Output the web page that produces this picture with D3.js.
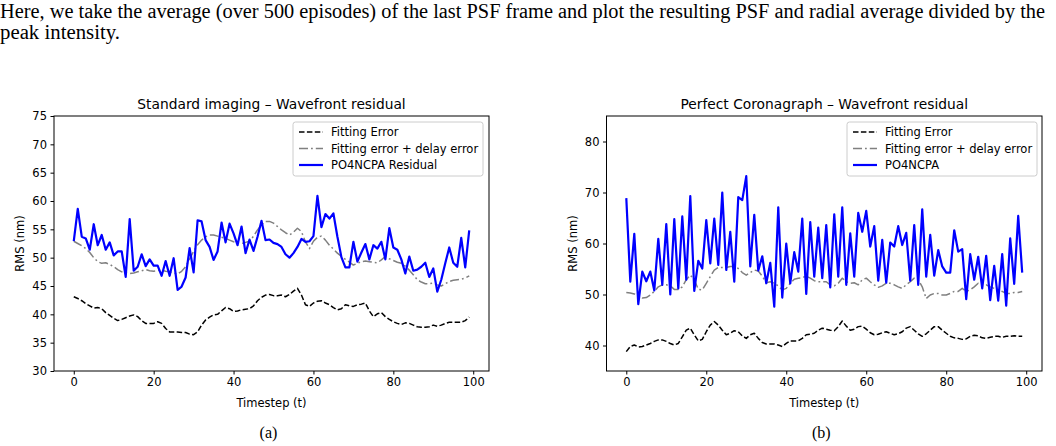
<!DOCTYPE html>
<html>
<head>
<meta charset="utf-8">
<script src="https://cdn.jsdelivr.net/npm/d3@7"></script>
<style>
    body { margin: 0; background: #fff; }
    svg { display: block; }
    .axis text { font-family: "DejaVu Sans", sans-serif; font-size: 11.5px; fill: #000; }
    .axis path, .axis line { stroke: #000; }
</style>
</head>
<body>
<div id="chart"></div>
<script>

// timesteps 0..99
var steps = d3.range(0, 100);

// (a) Standard imaging
var stdFitting = [43.1, 42.8, 42.4, 41.9, 41.5, 41.1, 41.2, 41.0, 40.3, 39.8,
    39.3, 38.9, 39.1, 39.4, 39.7, 39.9, 39.6, 38.9, 38.4, 38.4,
    38.4, 38.7, 38.4, 37.5, 36.9, 36.9, 36.9, 36.8, 36.8, 36.5,
    36.4, 36.9, 38.1, 39.0, 39.5, 39.9, 40.0, 40.6, 41.2, 41.0,
    40.5, 40.6, 40.8, 40.9, 41.0, 41.5, 42.4, 43.0, 43.4, 43.5,
    43.3, 43.3, 43.4, 43.1, 43.5, 44.1, 44.6, 43.4, 41.7, 41.4,
    42.0, 42.3, 42.4, 42.0, 41.7, 41.2, 40.8, 41.0, 41.7, 41.5,
    41.4, 41.7, 41.8, 42.0, 40.6, 39.6, 40.1, 40.3, 39.6, 39.1,
    38.7, 38.4, 38.2, 38.5, 38.4, 38.1, 37.8, 37.7, 37.7, 37.8,
    38.1, 37.9, 38.1, 38.4, 38.6, 38.6, 38.6, 38.6, 38.9, 39.5];

var stdDelay = [52.9, 52.5, 52.1, 51.6, 50.9, 50.0, 49.3, 49.0, 49.1, 48.8,
    48.4, 47.9, 47.5, 47.3, 47.2, 47.3, 47.5, 47.7, 47.9, 47.7,
    47.6, 47.7, 47.8, 47.6, 47.5, 47.3, 47.1, 47.6, 48.4, 49.8,
    51.1, 52.3, 53.1, 53.7, 54.0, 54.0, 53.8, 53.6, 53.4, 53.1,
    52.8, 52.6, 52.5, 52.7, 52.9, 53.8, 54.9, 55.8, 56.4, 56.4,
    56.1, 55.5, 54.9, 54.4, 54.0, 54.5, 55.2, 54.6, 52.8, 51.6,
    52.9, 53.6, 53.8, 53.1, 52.2, 51.5, 50.8, 50.2, 49.7, 49.2,
    48.7, 49.0, 49.3, 49.4, 49.3, 49.2, 49.1, 49.6, 50.2, 49.8,
    49.5, 49.2, 49.0, 48.5, 47.8, 47.0, 46.1, 45.7, 45.4, 45.4,
    45.5, 45.2, 45.0, 45.4, 45.8, 46.0, 46.1, 46.2, 46.4, 46.8];

var stdResidual = [52.9, 58.6, 53.7, 53.4, 51.4, 55.9, 52.2, 54.0, 51.4, 52.7,
    50.4, 51.1, 51.1, 46.6, 56.8, 47.7, 48.4, 50.6, 48.5, 49.7,
    48.6, 48.6, 46.8, 49.4, 46.8, 49.9, 44.3, 44.9, 46.5, 51.7,
    47.4, 56.6, 56.4, 53.1, 51.9, 49.6, 51.1, 56.2, 52.7, 56.0,
    54.3, 52.2, 55.5, 50.8, 53.2, 51.2, 53.7, 56.5, 53.1, 53.2,
    52.6, 52.4, 51.9, 50.6, 50.0, 50.8, 51.9, 53.3, 52.8, 52.9,
    53.8, 60.9, 55.4, 57.7, 56.9, 57.8, 53.7, 50.1, 48.3, 48.3,
    52.8, 49.3, 50.9, 52.4, 49.7, 52.2, 51.6, 52.8, 49.7, 55.2,
    51.8, 51.4, 49.7, 47.2, 50.2, 47.7, 47.9, 48.4, 49.1, 46.6,
    48.1, 44.0, 46.1, 49.0, 51.8, 49.1, 48.4, 53.5, 48.3, 54.8];

// (b) Perfect coronagraph
var coroFitting = [38.8, 39.8, 40.1, 39.7, 39.8, 40.1, 40.4, 40.8, 41.1, 41.1,
    40.8, 40.4, 40.1, 40.4, 41.7, 43.0, 43.4, 42.1, 40.9, 41.2,
    42.7, 44.0, 44.7, 44.0, 43.0, 42.1, 42.4, 42.9, 42.7, 41.9,
    41.4, 42.1, 42.4, 41.4, 40.6, 40.3, 40.3, 40.3, 40.1, 39.8,
    40.4, 40.9, 40.9, 40.9, 41.4, 42.1, 42.2, 42.4, 43.0, 43.4,
    43.2, 43.0, 42.9, 43.7, 44.8, 43.8, 43.0, 43.2, 43.7, 43.8,
    43.2, 42.5, 42.1, 42.2, 42.5, 42.7, 42.4, 42.1, 42.3, 42.7,
    43.4, 43.7, 43.0, 42.3, 41.8, 42.3, 43.0, 43.7, 43.7, 43.0,
    42.4, 41.8, 41.5, 41.4, 41.2, 41.3, 41.8, 42.0, 41.9, 41.5,
    41.4, 41.6, 41.8, 41.8, 41.6, 41.8, 41.8, 41.9, 41.8, 41.8];

var coroDelay = [50.4, 50.3, 50.1, 49.6, 49.3, 49.4, 49.9, 50.6, 51.5, 51.9,
    51.9, 51.7, 51.0, 51.0, 51.5, 52.9, 53.8, 52.9, 51.0, 50.9,
    52.2, 53.5, 54.8, 55.3, 55.3, 55.3, 55.5, 55.5, 55.1, 54.3,
    53.8, 54.3, 54.8, 54.6, 53.6, 52.3, 52.5, 52.2, 51.7, 50.9,
    51.2, 52.2, 53.0, 53.2, 53.3, 53.6, 53.2, 52.7, 52.5, 52.5,
    52.5, 51.9, 51.7, 52.2, 53.2, 52.5, 52.2, 52.3, 51.9, 52.9,
    53.2, 52.5, 51.9, 51.4, 51.7, 52.2, 52.2, 51.9, 51.5, 51.2,
    51.9, 52.5, 53.2, 52.9, 51.5, 49.2, 49.9, 50.2, 50.2, 49.9,
    49.9, 50.2, 50.6, 50.6, 51.2, 50.6, 50.9, 51.5, 52.2, 51.9,
    51.9, 51.5, 51.2, 50.9, 50.6, 50.2, 50.2, 50.4, 50.4, 50.6];

var coroResidual = [68.9, 52.5, 61.9, 48.1, 54.5, 52.6, 54.5, 50.8, 60.9, 51.9,
    63.8, 50.0, 64.8, 51.2, 65.3, 52.9, 69.3, 50.7, 56.6, 55.1,
    64.6, 56.1, 64.9, 55.8, 70.0, 54.8, 62.3, 52.5, 69.1, 68.5,
    73.2, 55.5, 65.6, 54.7, 57.5, 52.2, 56.2, 47.6, 67.1, 49.4,
    60.0, 52.2, 58.3, 54.5, 64.9, 50.1, 64.2, 53.5, 63.1, 53.2,
    63.6, 51.4, 65.7, 53.5, 67.1, 51.9, 62.0, 53.5, 66.0, 62.3,
    66.4, 59.4, 63.4, 52.7, 60.7, 52.3, 60.2, 59.4, 63.4, 59.7,
    62.1, 52.7, 63.6, 51.9, 66.7, 53.5, 61.7, 53.7, 58.7, 55.5,
    54.3, 54.3, 62.6, 58.4, 58.9, 49.1, 57.9, 52.9, 57.4, 51.2,
    57.6, 48.9, 55.6, 48.8, 57.9, 47.8, 61.0, 52.1, 65.4, 54.3];

var stdTicksY = [30, 35, 40, 45, 50, 55, 60, 65, 70, 75];
var coroTicksY = [40, 50, 60, 70, 80];
var ticksX = [0, 20, 40, 60, 80, 100];

var paragraph = [
    "Here, we take the average (over 500 episodes) of the last PSF frame and plot the resulting PSF and radial average divided by the",
    "peak intensity."
];

var blue = "#0000ff", gray = "#808080", black = "#000000";

var width = 1056, height = 446;

var svg = d3.select("#chart")
    .append("svg")
    .attr("width", width)
    .attr("height", height);

// paragraph text above the figure
svg.selectAll("text.para")
    .data(paragraph)
    .enter()
    .append("text")
    .attr("class", "para")
    .attr("x", 0)
    .attr("y", function (d, i) { return 18 + i * 21; })
    .attr("textLength", function (d, i) { return i === 0 ? 1045 : 120; })
    .attr("lengthAdjust", "spacingAndGlyphs")
    .style("font-family", "'Liberation Serif', 'Times New Roman', serif")
    .style("font-size", "20px")
    .text(function (d) { return d; });

drawPanel({
    left: 54, right: 489, top: 116, bottom: 371,
    yDomain: [30, 75], yTicks: stdTicksY,
    title: "Standard imaging \u2013 Wavefront residual",
    caption: "(a)",
    series: [
        {name: "Fitting Error", values: stdFitting, color: black, dash: "5.5,2.4", width: 1.5},
        {name: "Fitting error + delay error", values: stdDelay, color: gray, dash: "9,3,1.8,3", width: 1.5},
        {name: "PO4NCPA Residual", values: stdResidual, color: blue, dash: null, width: 2.2}
    ],
    legendX: 293
});

drawPanel({
    left: 606.5, right: 1042, top: 116, bottom: 371,
    yDomain: [35, 85], yTicks: coroTicksY,
    title: "Perfect Coronagraph \u2013 Wavefront residual",
    caption: "(b)",
    series: [
        {name: "Fitting Error", values: coroFitting, color: black, dash: "5.5,2.4", width: 1.5},
        {name: "Fitting error + delay error", values: coroDelay, color: gray, dash: "9,3,1.8,3", width: 1.5},
        {name: "PO4NCPA", values: coroResidual, color: blue, dash: null, width: 2.2}
    ],
    legendX: 847
});

function drawPanel(p) {
    var w = p.right - p.left,
        h = p.bottom - p.top;

    var x = d3.scaleLinear()
        .domain([-4.95, 103.95])
        .range([0, w]);

    var y = d3.scaleLinear()
        .domain(p.yDomain)
        .range([h, 0]);

    var main = svg.append("g")
        .attr("transform", "translate(" + p.left + "," + p.top + ")");

    var line = d3.line()
        .x(function (d, i) { return x(steps[i]); })
        .y(function (d) { return y(d); });

    var plot = main.append("g");
    p.series.forEach(function (s) {
        plot.append("path")
            .datum(s.values)
            .attr("d", line)
            .style("fill", "none")
            .style("stroke", s.color)
            .style("stroke-width", s.width)
            .style("stroke-dasharray", s.dash)
            .style("stroke-linejoin", "round");
    });

    main.append("g")
        .attr("class", "axis")
        .attr("transform", "translate(0," + h + ")")
        .call(d3.axisBottom(x).tickValues(ticksX).tickSize(3.5).tickPadding(3.5).tickFormat(d3.format("d")))
        .call(function (g) { g.select(".domain").remove(); });

    main.append("g")
        .attr("class", "axis")
        .call(d3.axisLeft(y).tickValues(p.yTicks).tickSize(3.5).tickPadding(3.5).tickFormat(d3.format("d")))
        .call(function (g) { g.select(".domain").remove(); });

    main.append("rect")
        .attr("width", w)
        .attr("height", h)
        .style("fill", "none")
        .style("stroke", "#000")
        .style("stroke-width", 1);

    main.append("text")
        .attr("x", w / 2)
        .attr("y", -7)
        .attr("text-anchor", "middle")
        .style("font-family", "'DejaVu Sans', sans-serif")
        .style("font-size", "13.8px")
        .text(p.title);

    main.append("text")
        .attr("x", w / 2)
        .attr("y", h + 36)
        .attr("text-anchor", "middle")
        .style("font-family", "'DejaVu Sans', sans-serif")
        .style("font-size", "11.5px")
        .text("Timestep (t)");

    main.append("text")
        .attr("transform", "rotate(-90)")
        .attr("x", -h / 2)
        .attr("y", -30)
        .attr("text-anchor", "middle")
        .style("font-family", "'DejaVu Sans', sans-serif")
        .style("font-size", "11.5px")
        .text("RMS (nm)");

    svg.append("text")
        .attr("x", p.left + w / 2 - 3)
        .attr("y", 438)
        .attr("text-anchor", "middle")
        .style("font-family", "'Liberation Serif', 'Times New Roman', serif")
        .style("font-size", "16px")
        .text(p.caption);

    // legend
    var legend = svg.append("g")
        .attr("transform", "translate(" + p.legendX + ",122)");

    legend.append("rect")
        .attr("width", 190)
        .attr("height", 54)
        .attr("rx", 2.5)
        .style("fill", "#fff")
        .style("fill-opacity", 0.8)
        .style("stroke", "#cccccc")
        .style("stroke-width", 1);

    var rows = legend.selectAll("g.row")
        .data(p.series)
        .enter()
        .append("g")
        .attr("class", "row")
        .attr("transform", function (d, i) { return "translate(0," + (10 + i * 16.5) + ")"; });

    rows.append("line")
        .attr("x1", 6)
        .attr("x2", 30)
        .style("stroke", function (d) { return d.color; })
        .style("stroke-width", function (d) { return d.width; })
        .style("stroke-dasharray", function (d) { return d.dash; });

    rows.append("text")
        .attr("x", 38)
        .attr("dy", "0.35em")
        .style("font-family", "'DejaVu Sans', sans-serif")
        .style("font-size", "11.5px")
        .text(function (d) { return d.name; });
}

</script>
</body>
</html>
